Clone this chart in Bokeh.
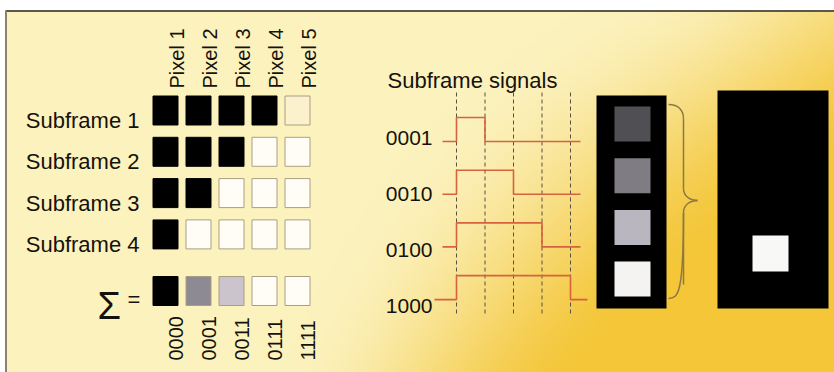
import numpy as np
from bokeh.plotting import figure
from bokeh.models import Range1d
from bokeh.core.properties import value
from bokeh.embed import file_html
from bokeh.resources import INLINE

# ---------------- data ----------------
pixel_labels = ["Pixel 1", "Pixel 2", "Pixel 3", "Pixel 4", "Pixel 5"]
subframe_labels = ["Subframe 1", "Subframe 2", "Subframe 3", "Subframe 4"]
subframe_on = [
    [1, 1, 1, 1, 0],
    [1, 1, 1, 0, 0],
    [1, 1, 0, 0, 0],
    [1, 0, 0, 0, 0],
]
sum_codes = ["0000", "0001", "0011", "0111", "1111"]
sum_colors = ["#000000", "#8e8a93", "#cbc4cc", "#fffdf6", "#fffdf6"]
signal_labels = ["0001", "0010", "0100", "1000"]
signal_high_slots = [1, 2, 3, 4]
n_slots = 4
subframe_grays = ["#504f53", "#7f7c84", "#bab6bf", "#f4f3f2"]

# ---------------- style / layout ----------------
FONT = "'Liberation Sans', Arial, sans-serif"
TXT = "#15120c"
W, H = 834, 372
X0, X1, Y0, Y1 = 0, 834, 0, 372

p = figure(width=W, height=H, output_backend="svg", toolbar_location=None,
           x_axis_type=None, y_axis_type=None, min_border=0,
           x_range=Range1d(X0, X1), y_range=Range1d(Y1, Y0))
p.grid.visible = False
p.outline_line_color = None
p.background_fill_color = "white"
p.border_fill_color = "white"

# background gradient
gw, gh = 209, 91
gx = np.linspace(5, X1, gw)[None, :]
gy = np.linspace(10, Y1, gh)[:, None]
t = 0.9 * (gx - 420) / 414 + 0.75 * ((gy - 140) / 232) * np.clip(gx / 700, 0, 1)
t = np.clip(t, 0, 1)
t = t * t * (3 - 2 * t)
light = np.array([252, 242, 190])
gold = np.array([244, 198, 56])
rgb = light[None, None, :] * (1 - t[..., None]) + gold[None, None, :] * t[..., None]
img = np.zeros((gh, gw), dtype=np.uint32)
view = img.view(dtype=np.uint8).reshape((gh, gw, 4))
view[..., 0] = rgb[..., 0].astype(np.uint8)
view[..., 1] = rgb[..., 1].astype(np.uint8)
view[..., 2] = rgb[..., 2].astype(np.uint8)
view[..., 3] = 255
p.image_rgba(image=[img], x=5, y=10, dw=X1 - 5, dh=Y1 - 10)

# panel border
p.segment(x0=[5, 5.5], y0=[10.5, 10], x1=[X1, 5.5], y1=[10.5, Y1],
          line_color=["#5c574b", "#8a8370"], line_width=2)

# ---------------- left grid ----------------
COL_X0, COL_DX = 165, 33
ROW_Y0, ROW_DY = 110, 41.3
SUM_Y = 290.5
SQ_W, SQ_H = 25, 29

xs, ys, fills, lines = [], [], [], []
for r, row in enumerate(subframe_on):
    for c, on in enumerate(row):
        xs.append(COL_X0 + COL_DX * c)
        ys.append(ROW_Y0 + ROW_DY * r)
        if on:
            fills.append("#000000"); lines.append("#000000")
        else:
            fills.append("#fbf1cc" if r == 0 else "#fffdf6"); lines.append("#a89f86")
for c, col in enumerate(sum_colors):
    xs.append(COL_X0 + COL_DX * c)
    ys.append(SUM_Y)
    fills.append(col)
    lines.append("#000000" if col == "#000000" else "#a89f86")
p.rect(x=xs, y=ys, width=SQ_W, height=SQ_H, fill_color=fills, line_color=lines, line_width=1)

# pixel labels (rotated)
p.text(x=[COL_X0 + COL_DX * c + 11 for c in range(len(pixel_labels))],
       y=[88] * len(pixel_labels), text=pixel_labels, angle=np.pi / 2,
       text_font=value(FONT), text_font_size=value("20px"), text_color=TXT,
       text_align="left", text_baseline="alphabetic")

# subframe labels
p.text(x=[139] * len(subframe_labels),
       y=[ROW_Y0 + ROW_DY * r + 10 for r in range(len(subframe_labels))],
       text=subframe_labels, text_font=value(FONT), text_font_size=value("22px"),
       text_color=TXT, text_align="right", text_baseline="alphabetic")

# sigma =
p.text(x=[97], y=[305], text=["Σ"], text_font=value(FONT), text_font_size=value("38px"),
       text_color=TXT, text_align="left", text_baseline="alphabetic")
p.text(x=[127], y=[299], text=["="], text_font=value(FONT), text_font_size=value("22px"),
       text_color=TXT, text_align="left", text_baseline="alphabetic")

# code labels (rotated)
p.text(x=[COL_X0 + COL_DX * c + 10 for c in range(len(sum_codes))],
       y=[360] * len(sum_codes), text=sum_codes, angle=np.pi / 2,
       text_font=value(FONT), text_font_size=value("20px"), text_color=TXT,
       text_align="left", text_baseline="alphabetic")

# ---------------- signals ----------------
p.text(x=[387], y=[80], text=["Subframe signals"], text_font=value(FONT),
       text_font_size=value("22px"), text_color=TXT, text_align="left",
       text_baseline="alphabetic")

T0, DT = 456, 28.5
bounds = [T0 + DT * k for k in range(n_slots + 1)]
p.segment(x0=bounds, y0=92, x1=bounds, y1=316, line_color="#5a5142",
          line_width=1, line_dash="4 3")

SIG_Y0, SIG_DY, SIG_H = 141, 52.7, 24
mx, my = [], []
for j, slots in enumerate(signal_high_slots):
    low = SIG_Y0 + SIG_DY * j
    high = low - SIG_H
    start = 434 if j == len(signal_high_slots) - 1 else 442
    end = 587 if j == len(signal_high_slots) - 1 else 580
    te = T0 + DT * slots
    mx.append([start, T0, T0, te, te, end])
    my.append([low, low, high, high, low, low])
p.multi_line(xs=mx, ys=my, line_color="#d6623e", line_width=1.6)

p.text(x=[432] * len(signal_labels), y=[137 + 56 * j for j in range(len(signal_labels))],
       text=signal_labels, text_font=value(FONT), text_font_size=value("21px"),
       text_color=TXT, text_align="right", text_baseline="alphabetic")

# ---------------- subframe boxes ----------------
p.quad(left=[596, 717], right=[666, 828], top=[95, 90], bottom=[308, 308],
       fill_color="#000000", line_color=None)
p.quad(left=[614] * 4, right=[650] * 4,
       top=[106 + 51.7 * j for j in range(4)],
       bottom=[141 + 51.7 * j for j in range(4)],
       fill_color=subframe_grays, line_color=None)
p.quad(left=[752], right=[788], top=[235], bottom=[271],
       fill_color="#f8f8f6", line_color=None)

# brace
BC = "#8c7846"
p.bezier(x0=[668, 683, 697, 683], y0=[104, 188, 200, 212],
         x1=[683, 697, 683, 668], y1=[118, 200, 212, 298],
         cx0=[678, 683, 690, 683], cy0=[104, 196, 200, 292],
         cx1=[683, 690, 683, 678], cy1=[110, 200, 204, 298],
         line_color=BC, line_width=1.5)
p.segment(x0=[683, 683], y0=[118, 212], x1=[683, 683], y1=[188, 284],
          line_color=BC, line_width=1.5)

open("out.html", "w").write(file_html(p, INLINE))
